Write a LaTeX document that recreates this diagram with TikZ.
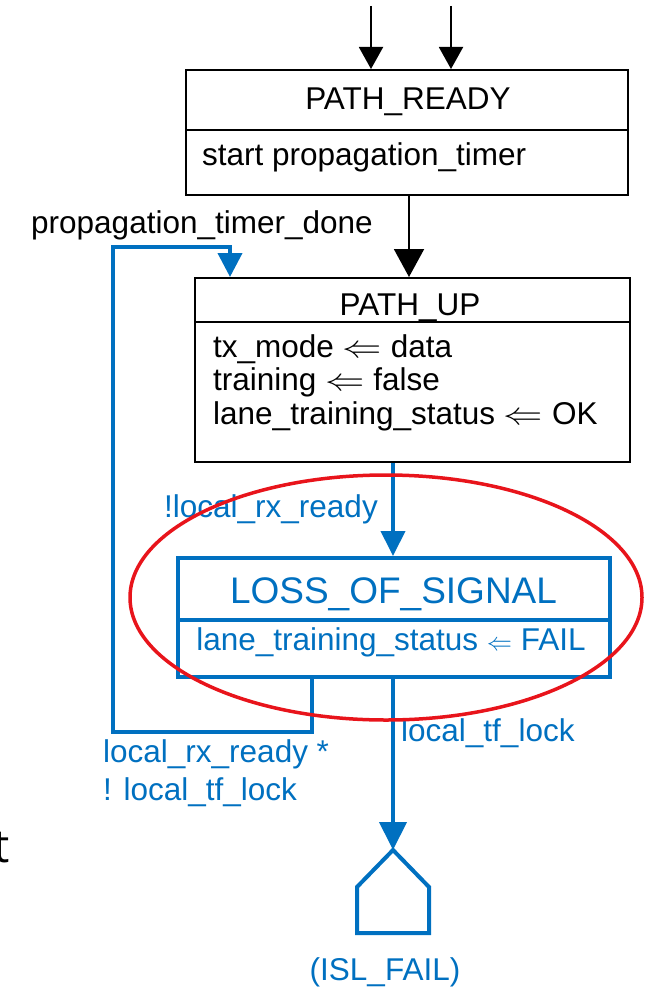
\RequirePackage{fix-cm}
\documentclass[tikz,border=0pt]{standalone}
\usepackage{fontspec}
\usepackage{graphicx}
\setmainfont{Liberation Sans}
\newfontfamily\edgefont{Open Sans}
\usetikzlibrary{arrows.meta}
\definecolor{flowblue}{HTML}{0070C0}
\definecolor{markred}{HTML}{E8141B}

\begin{document}
\begin{tikzpicture}[x=1pt,y=-1pt,
  statebox/.style={draw=black, line width=2pt, inner sep=0pt},
  losbox/.style={draw=flowblue, line width=4pt, inner sep=0pt},
  txt/.style={font=\fontsize{31.5}{34}\selectfont, inner sep=0pt},
  bigtxt/.style={font=\fontsize{37}{40}\selectfont, inner sep=0pt},
  bluetxt/.style={txt, text=flowblue},
  blackflow/.style={draw=black, line width=2pt, -{Triangle[width=24pt,length=22pt]}},
  bigflow/.style={draw=black, line width=2pt, -{Triangle[width=30pt,length=28pt]}},
  blueflow/.style={draw=flowblue, line width=4pt, -{Triangle[width=24pt,length=25pt]}},
  blueline/.style={draw=flowblue, line width=4pt, line join=miter},
]
\useasboundingbox (0,0) rectangle (646,987);

% state boxes
\node[statebox, minimum width=442pt, minimum height=125pt] (ready) at (407,132.5) {};
\draw[line width=2pt] (ready.west |- 0,130) -- (ready.east |- 0,130);
\node[statebox, minimum width=435pt, minimum height=184pt] (up) at (412.5,370) {};
\draw[line width=2pt] (up.west |- 0,322) -- (up.east |- 0,322);
\node[losbox, minimum width=432pt, minimum height=119pt] (los) at (394,617.5) {};
\draw[blueline] (los.west |- 0,620) -- (los.east |- 0,620);

% state texts
\node[txt, anchor=base] (readyname) at (408,110) {PATH\_READY};
\node[txt, anchor=base west] (readyact) at (202,166) {start propagation\_timer};
\node[txt, anchor=base] (upname) at (410,315) {PATH\_UP};
\node[txt, anchor=base west] (upact1) at (213,357) {tx\_mode \scalebox{1.25}[1]{$\Leftarrow$} data};
\node[txt, anchor=base west] (upact2) at (213,390) {training \scalebox{1.25}[1]{$\Leftarrow$} false};
\node[txt, anchor=base west] (upact3) at (213,424) {lane\_training\_status \scalebox{1.25}[1]{$\Leftarrow$} OK};
\node[bigtxt, text=flowblue, anchor=base] (losname) at (393.5,603) {LOSS\_OF\_SIGNAL};
\node[bluetxt, anchor=base] (losact) at (391,650) {lane\_training\_status \scalebox{0.8}{$\Leftarrow$} FAIL};

% incoming transitions
\coordinate (in1) at (371,6);
\coordinate (in2) at (451,6);
\draw[blackflow] (in1) -- (in1 |- ready.north);
\draw[blackflow] (in2) -- (in2 |- ready.north);
\draw[bigflow] (ready.south -| 409,0) -- (up.north -| 409,0);

% loss of signal entry and retrain loop
\draw[blueflow] (up.south -| 393,0) -- (los.north -| 393,0);
\draw[blueline, -{Triangle[width=24pt,length=24pt]}]
  (los.south -| 312,0) -- (312,732) -- (113,732) -- (113,247) -- (230,247) -- (up.north -| 230,0);

% exit to ISL_FAIL
\coordinate (isl) at (393,850);
\draw[draw=flowblue, line width=4pt, -{Triangle[width=27pt,length=28pt]}] (los.south -| isl) -- (isl);
\draw[blueline] (isl) -- (429,887) -- (429,933) -- (357,933) -- (357,887) -- cycle;
\node[bluetxt, anchor=base] (islname) at (385,980) {(ISL\_FAIL)};

% transition labels
\node[txt, anchor=base west] (lbldone) at (31,233) {propagation\_timer\_done};
\node[bluetxt, anchor=base east] (lblnotrx) at (378,517) {!local\_rx\_ready};
\node[bluetxt, anchor=base west] (lblrx) at (103,762) {local\_rx\_ready *};
\node[bluetxt, anchor=base west] (lblnottf) at (103,800) {! local\_tf\_lock};
\node[bluetxt, anchor=base west] (lbltf) at (401,741) {local\_tf\_lock};

% highlight
\draw[markred, line width=3.5pt] (386,597.5) ellipse [x radius=256pt, y radius=122.5pt];

% text cut at the left edge
\node[font=\edgefont\fontsize{46}{50}\selectfont, anchor=base east, inner sep=0pt] (edge) at (10,862) {t};
\end{tikzpicture}
\end{document}
